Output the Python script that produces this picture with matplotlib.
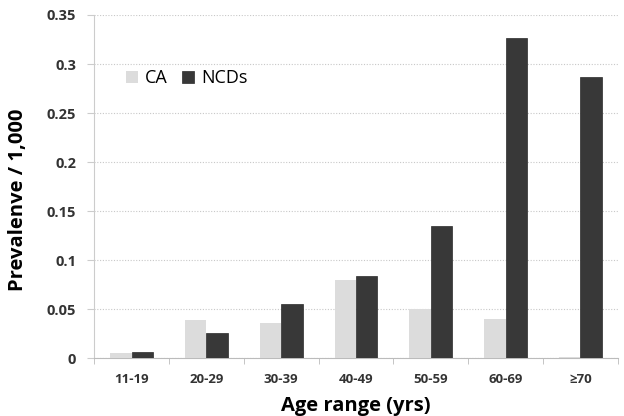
import numpy as np
import matplotlib
matplotlib.use("Agg")
import matplotlib.pyplot as plt
from matplotlib.ticker import FixedLocator, FuncFormatter

plt.rcParams['font.family'] = ['Open Sans', 'DejaVu Sans']

# data
age_groups = ['11-19', '20-29', '30-39', '40-49', '50-59', '60-69', '\u226570']
ca = [0.005, 0.039, 0.036, 0.080, 0.050, 0.040, 0.001]
ncds = [0.006, 0.026, 0.055, 0.084, 0.135, 0.327, 0.287]

fig = plt.figure(figsize=(6.24, 4.16), dpi=100)
ax = fig.add_axes([0.151, 0.139, 0.839, 0.825])

x = np.arange(len(age_groups))
w = 0.285
ax.bar(x - w / 2, ca, w, color='#dcdcdc', label='CA', zorder=3)
ax.bar(x + w / 2, ncds, w, color='#383838', edgecolor='#2a2a2a', linewidth=0.5,
       label='NCDs', zorder=3)

ax.set_xlim(-0.5, len(age_groups) - 0.5)
ax.set_ylim(0, 0.35)
ax.set_yticks(np.arange(0, 0.351, 0.05))
ax.yaxis.set_major_formatter(FuncFormatter(lambda v, p: '0' if v == 0 else ('%.2f' % v).rstrip('0')))
ax.grid(axis='y', linestyle=(0, (1, 1.5)), color='#c8c8c8', linewidth=0.8, zorder=0)

# category ticks on the boundaries, labels centred
ax.set_xticks(x)
ax.set_xticklabels(age_groups, fontsize=9.5, fontweight='bold', color='#333333')
ax.xaxis.set_minor_locator(FixedLocator(np.arange(-0.5, len(age_groups), 1)))
ax.tick_params(axis='x', which='major', length=0, pad=11)
ax.tick_params(axis='x', which='minor', length=4, color='#bbbbbb')
ax.tick_params(axis='y', length=5, pad=8, color='#cccccc', labelsize=10.5, labelcolor='#333333')
for t in ax.get_yticklabels():
    t.set_fontweight('bold')

for s in ['top', 'right']:
    ax.spines[s].set_visible(False)
ax.spines['left'].set_color('#cccccc')
ax.spines['bottom'].set_color('#bbbbbb')

ax.set_ylabel('Prevalenve / 1,000', fontsize=14.5, fontweight='bold')
ax.yaxis.set_label_coords(-0.126, 0.46)
ax.set_xlabel('Age range (yrs)', fontsize=14.5, fontweight='bold', labelpad=7)

ax.legend(loc='upper left', bbox_to_anchor=(0.03, 0.89), frameon=False, ncol=2,
          fontsize=13, handlelength=0.65, handleheight=0.65, handletextpad=0.4,
          columnspacing=0.8)

fig.savefig('out.png', dpi=100)
